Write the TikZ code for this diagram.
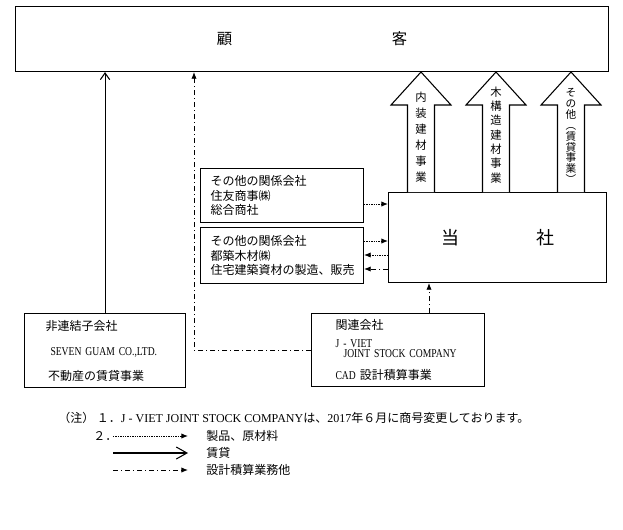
\documentclass[tikz,border=0pt]{standalone}
\usepackage{fontspec}
\setmainfont{Noto Sans CJK JP}
\newfontfamily\latinfont{Liberation Serif}[FakeStretch=0.8]
\newfontfamily\latinwide{Liberation Serif}
\newcommand{\lat}[1]{{\latinfont #1}}
\newcommand{\latw}[1]{{\latinwide #1}}
\usetikzlibrary{arrows.meta}

\tikzset{
  box/.style={draw, line width=0.8pt, anchor=north west, inner ysep=0pt, align=left, font=\fontsize{9}{11}\selectfont},
  txt/.style={anchor=west, inner sep=0.75pt, font=\fontsize{9}{11}\selectfont},
  vtext/.style={inner sep=0pt, align=center},
  goods/.style={dash pattern=on 1pt off 0.8pt, line width=0.7pt, -{Latex[length=5pt,width=4pt]}},
  rent/.style={line width=0.8pt, -{Straight Barb[length=5pt,width=7pt]}},
  design/.style={dash pattern=on 4pt off 2pt on 1pt off 2pt, line width=0.7pt, -{Latex[length=5pt,width=4pt]}},
  bigarrow/.style={draw, line width=0.8pt, fill=white},
}

\begin{document}
\begin{tikzpicture}[x=0.75pt,y=0.75pt,yscale=-1,xscale=1]
\useasboundingbox (0,0) rectangle (623,529);

% Boxes
\node[box, align=center, minimum width=444.75pt, minimum height=48.75pt, font=\fontsize{11.5}{13}\selectfont] (customer) at (15,6) {顧\hspace{119.75pt}客};
\node[box, align=center, minimum width=163.5pt, minimum height=67.5pt, font=\fontsize{13.5}{15}\selectfont] (company) at (388,192) {当\hspace{57.75pt}社};
\node[box, minimum height=40.5pt, inner xsep=7.5pt, text width=107.25pt] (assocA) at (200,168) {その他の関係会社\\住友商事㈱\\総合商社};
\node[box, minimum height=42pt, inner xsep=7.5pt, text width=107.25pt] (assocB) at (200,227) {その他の関係会社\\都築木材㈱\\住宅建築資材の製造、販売};
\node[box, minimum height=55.5pt, inner xsep=15.75pt, text width=89.25pt] (seven) at (24,313) {非連結子会社\\[7.75pt]\hspace{3.75pt}\lat{SEVEN GUAM CO.,LTD.}\\[7.75pt]\hspace{2pt}不動産の賃貸事業};
\node[box, minimum height=54.75pt, inner xsep=18pt, text width=93.75pt] (jviet) at (311,313) {関連会社\\[2.5pt]\lat{J - VIET}\\[-3.5pt]\hspace{6pt}\lat{JOINT STOCK COMPANY}\\[5.5pt]\lat{CAD} 設計積算事業};

% Segment arrows
\foreach \cx in {421,496,571}
  \draw[bigarrow] (\cx-13.5,192) -- (\cx-13.5,105) -- (\cx-30,105) -- (\cx,72) -- (\cx+30,105) -- (\cx+13.5,105) -- (\cx+13.5,192);
\node[vtext, font=\fontsize{8.5}{12}\selectfont] (segA) at (421,137) {内\\装\\建\\材\\事\\業};
\node[vtext, font=\fontsize{8.5}{10.75}\selectfont] (segB) at (496,135) {木\\構\\造\\建\\材\\事\\業};
\node[vtext, font=\fontsize{8}{8.2}\selectfont] (segC) at (571,136) {そ\\の\\他\\︵\\賃\\貸\\事\\業\\︶};

% Connectors
\draw[goods] (assocA.east |- 0,204) -- (company.west |- 0,204);
\draw[goods] (assocB.east |- 0,241) -- (company.west |- 0,241);
\draw[goods] (company.west |- 0,255) -- (assocB.east |- 0,255);
\draw[design] (company.west |- 0,269) -- (assocB.east |- 0,269);
\draw[design] (jviet.north -| 429,0) -- (company.south -| 429,0);
\draw[rent] (seven.north) -- (seven.north |- customer.south);
\coordinate (ddturn) at (194,0);
\draw[design] (jviet.west) -| (customer.south -| ddturn);

% Notes
\node[txt] (note1) at (57,418) {（注） １．\latw{J - VIET JOINT STOCK COMPANY}は、\latw{2017}年６月に商号変更しております。};
\node[txt] (note2) at (92,436) {２．};
\coordinate (lgA1) at (113,436);
\coordinate (lgA2) at (188,436);
\coordinate (lgB1) at (113,453);
\coordinate (lgB2) at (188,453);
\coordinate (lgC1) at (113,470);
\coordinate (lgC2) at (188,470);
\draw[goods] (lgA1) -- (lgA2);
\draw[rent, -{Straight Barb[length=8pt,width=9pt]}] (lgB1) -- (lgB2);
\draw[design] (lgC1) -- (lgC2);
\node[txt] (lgAtxt) at (205,436) {製品、原材料};
\node[txt] (lgBtxt) at (205,453) {賃貸};
\node[txt] (lgCtxt) at (205,470) {設計積算業務他};

\end{tikzpicture}
\end{document}
